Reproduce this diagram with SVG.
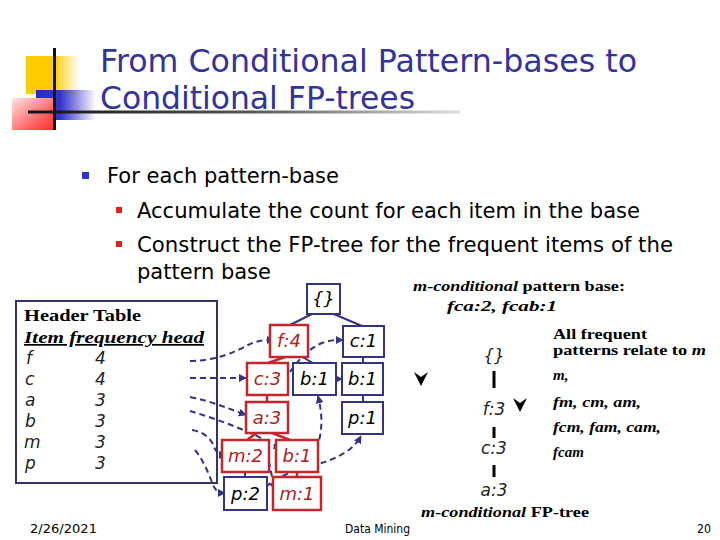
<svg xmlns="http://www.w3.org/2000/svg" width="720" height="540" viewBox="0 0 720 540">
<defs>
<linearGradient id="gy" x1="0" y1="0" x2="1" y2="0"><stop offset="0" stop-color="#ffcc00"/><stop offset="0.5" stop-color="#ffcc00"/><stop offset="1" stop-color="#ffcc00" stop-opacity="0"/></linearGradient>
<linearGradient id="gb" x1="0" y1="0" x2="1" y2="0"><stop offset="0" stop-color="#2a2acc"/><stop offset="0.4" stop-color="#3333cc"/><stop offset="1" stop-color="#3333cc" stop-opacity="0"/></linearGradient>
<linearGradient id="gr" x1="0" y1="0" x2="1" y2="1"><stop offset="0" stop-color="#ffe4e4"/><stop offset="0.7" stop-color="#ff5a5a"/><stop offset="1" stop-color="#ff3030"/></linearGradient>
<linearGradient id="gl" x1="0" y1="0" x2="1" y2="0"><stop offset="0" stop-color="#111"/><stop offset="0.5" stop-color="#555"/><stop offset="1" stop-color="#ddd"/></linearGradient>
<marker id="ah" viewBox="0 0 10 10" refX="9" refY="5" markerWidth="4" markerHeight="4" orient="auto"><path d="M0,0 L10,5 L0,10 z" fill="#333380"/></marker>
</defs>
<style>
.title{font-family:"DejaVu Sans",sans-serif;font-size:32px;fill:#333399}
.bul{font-family:"DejaVu Sans",sans-serif;font-size:22px;fill:#000}
.ht{font-family:"Liberation Serif",serif;font-weight:bold;font-size:17px;fill:#000}
.row{font-family:"DejaVu Sans",sans-serif;font-weight:200;font-style:italic;font-size:17px;fill:#222}
.bn{fill:#fff;stroke:#333380;stroke-width:2}
.rn{fill:#fff;stroke:#c0282d;stroke-width:2.5}
.bt{font-family:"DejaVu Sans",sans-serif;font-weight:200;font-style:italic;font-size:18px;fill:#000;text-anchor:middle}
.rt{font-family:"DejaVu Sans",sans-serif;font-weight:200;font-style:italic;font-size:18px;fill:#b02020;text-anchor:middle}
.eb{stroke:#333380;stroke-width:2;fill:none}
.er{stroke:#c0282d;stroke-width:2.5;fill:none}
.lk{stroke:#333380;stroke-width:2;fill:none;stroke-dasharray:6 4;marker-end:url(#ah)}
.rb{font-family:"Liberation Serif",serif;font-weight:bold;font-size:15px;fill:#000}
.ri{font-family:"Liberation Serif",serif;font-weight:bold;font-style:italic;font-size:15px;fill:#000}
.ct{font-family:"DejaVu Sans",sans-serif;font-weight:200;font-style:italic;font-size:17px;fill:#222;text-anchor:middle}
.ft{font-family:"DejaVu Sans",sans-serif;font-size:12px;fill:#000}
</style>
<rect width="720" height="540" fill="#fff"/>
<g id="logo">
<rect x="26" y="56" width="54" height="38" fill="url(#gy)"/>
<rect x="36" y="90" width="60" height="30" fill="url(#gb)"/>
<rect x="12" y="98" width="42" height="32" fill="url(#gr)"/>
<rect x="53" y="48" width="3" height="82" fill="#111"/>
<rect x="28" y="110.5" width="432" height="3" fill="url(#gl)"/>
</g>
<g id="title">
<text class="title" x="100" y="72" textLength="537" lengthAdjust="spacingAndGlyphs">From Conditional Pattern-bases to</text>
<text class="title" x="100" y="109" textLength="315" lengthAdjust="spacingAndGlyphs">Conditional FP-trees</text>
</g>
<g id="bullets">
<rect x="82" y="172" width="7" height="7" fill="#3333cc"/>
<text class="bul" x="107" y="183" textLength="232" lengthAdjust="spacingAndGlyphs">For each pattern-base</text>
<rect x="116" y="207" width="6" height="6" fill="#e02020"/>
<text class="bul" x="137" y="218" textLength="503" lengthAdjust="spacingAndGlyphs">Accumulate the count for each item in the base</text>
<rect x="116" y="241" width="6" height="6" fill="#e02020"/>
<text class="bul" x="137" y="252" textLength="536" lengthAdjust="spacingAndGlyphs">Construct the FP-tree for the frequent items of the</text>
<text class="bul" x="137" y="279" textLength="134" lengthAdjust="spacingAndGlyphs">pattern base</text>
</g>
<g id="header-table">
<rect x="16" y="301" width="201" height="182" fill="none" stroke="#333366" stroke-width="2"/>
<text class="ht" x="24" y="321" textLength="117" lengthAdjust="spacingAndGlyphs">Header Table</text>
<text class="ht" x="24" y="343" font-style="italic" text-decoration="underline" textLength="180" lengthAdjust="spacingAndGlyphs">Item  frequency  head</text>
<text class="row" x="26" y="364">f</text><text class="row" x="95" y="364">4</text>
<text class="row" x="25" y="385">c</text><text class="row" x="95" y="385">4</text>
<text class="row" x="25" y="406">a</text><text class="row" x="95" y="406">3</text>
<text class="row" x="25" y="427">b</text><text class="row" x="95" y="427">3</text>
<text class="row" x="24" y="448">m</text><text class="row" x="95" y="448">3</text>
<text class="row" x="25" y="469">p</text><text class="row" x="95" y="469">3</text>
</g>
<g id="connectors">
<path class="eb" d="M322,309 L290,325 M322,309 L362,326 M290,350 L313,363 M363,357 V363 M363,395 V402 M245,472 V477"/>
<path class="er" d="M285,357 L268,363 M267,395 V402 M262,429 L247,440 M262,429 L290,440 M297,472 V477"/>
<path class="lk" d="M190,361 C215,361 235,352 248,345 C256,341 262,340 274,340"/>
<path class="lk" d="M190,378 L246,378"/>
<path class="lk" d="M190,397 C215,402 232,410 246,415"/>
<path class="lk" d="M190,411 C220,420 255,433 281,449"/>
<path class="lk" d="M192,430 C205,432 212,440 214,447 C216,452 220,455 226,455"/>
<path class="lk" d="M195,450 C205,462 210,478 214,487 C217,492 220,493 225,493"/>
<path class="lk" d="M284,380 C295,365 305,350 322,343 C330,340 336,340 343,340"/>
<path class="eb" d="M336,379 L342,379" marker-end="url(#ah)"/>
<path class="lk" d="M312,458 C322,440 324,420 318,396"/>
<path class="lk" d="M266,487 C280,472 310,468 330,460 C345,454 355,447 361,436"/>
<path class="lk" d="M264,452 C272,462 270,478 276,489"/>
</g>
<g id="n-root"><rect class="bn" x="307" y="284" width="33" height="30"/><text class="bt" x="323.5" y="305">{}</text></g>
<g id="n-f4"><rect class="rn" x="270" y="325" width="38" height="32"/><text class="rt" x="289" y="347">f:4</text></g>
<g id="n-c1"><rect class="bn" x="343" y="326" width="41" height="31"/><text class="bt" x="363.5" y="347">c:1</text></g>
<g id="n-c3"><rect class="rn" x="247" y="363" width="41" height="32"/><text class="rt" x="267.5" y="385">c:3</text></g>
<g id="n-b1m"><rect class="bn" x="293" y="363" width="43" height="32"/><text class="bt" x="314.5" y="385">b:1</text></g>
<g id="n-b1r"><rect class="bn" x="342" y="363" width="41" height="32"/><text class="bt" x="362.5" y="385">b:1</text></g>
<g id="n-a3"><rect class="rn" x="246" y="402" width="42" height="31"/><text class="rt" x="267" y="424">a:3</text></g>
<g id="n-p1"><rect class="bn" x="342" y="402" width="41" height="32"/><text class="bt" x="362.5" y="424">p:1</text></g>
<g id="n-m2"><rect class="rn" x="222" y="440" width="47" height="32"/><text class="rt" x="245.5" y="462">m:2</text></g>
<g id="n-b1red"><rect class="rn" x="276" y="440" width="42" height="32"/><text class="rt" x="297" y="462">b:1</text></g>
<g id="n-p2"><rect class="bn" x="224" y="477" width="43" height="33"/><text class="bt" x="245.5" y="500">p:2</text></g>
<g id="n-m1"><rect class="rn" x="273" y="477" width="48" height="33"/><text class="rt" x="297" y="500">m:1</text></g>
<g id="right-panel">
<text x="413" y="291" textLength="212" lengthAdjust="spacingAndGlyphs"><tspan class="ri">m-conditional</tspan><tspan class="rb"> pattern base:</tspan></text>
<text class="ri" x="447" y="311" textLength="110" lengthAdjust="spacingAndGlyphs">fca:2, fcab:1</text>
<text class="rb" x="553" y="339" textLength="94" lengthAdjust="spacingAndGlyphs">All frequent</text>
<text x="553" y="355" textLength="153" lengthAdjust="spacingAndGlyphs"><tspan class="rb">patterns relate to </tspan><tspan class="ri">m</tspan></text>
<text class="ri" x="553" y="380">m,</text>
<text class="ri" x="553" y="407" textLength="88" lengthAdjust="spacingAndGlyphs">fm, cm, am,</text>
<text class="ri" x="553" y="432" textLength="108" lengthAdjust="spacingAndGlyphs">fcm, fam, cam,</text>
<text class="ri" x="553" y="457">fcam</text>
<text class="ct" x="494" y="362">{}</text>
<rect x="492.5" y="371" width="3" height="17" fill="#000"/>
<text class="ct" x="494" y="415">f:3</text>
<rect x="492.5" y="427" width="3" height="11" fill="#000"/>
<text class="ct" x="494" y="454">c:3</text>
<rect x="492.5" y="465" width="3" height="12" fill="#000"/>
<text class="ct" x="494" y="496">a:3</text>
<text x="421" y="517" textLength="168" lengthAdjust="spacingAndGlyphs"><tspan class="ri">m-conditional</tspan><tspan class="rb"> FP-tree</tspan></text>
<polygon points="414,372 421,377 428,372 421,386" fill="#000"/>
<polygon points="513,398 520,403 527,398 520,412" fill="#000"/>
</g>
<g id="footer">
<text class="ft" x="30" y="533" textLength="67" lengthAdjust="spacingAndGlyphs">2/26/2021</text>
<text class="ft" x="345" y="533" textLength="65" lengthAdjust="spacingAndGlyphs">Data Mining</text>
<text class="ft" x="697" y="533" textLength="14" lengthAdjust="spacingAndGlyphs">20</text>
</g>
</svg>
